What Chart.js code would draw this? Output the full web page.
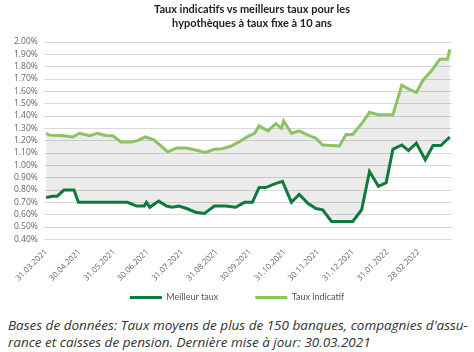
<!DOCTYPE html>
<html>
<head>
<meta charset="utf-8">
<script src="https://cdn.jsdelivr.net/npm/chart.js@4"></script>
<style>
  body { margin:0; background:#fff; width:474px; height:352px; overflow:hidden; }
  #wrap { position:absolute; left:0; top:0; width:474px; height:312px; }
  #title { position:absolute; left:152px; top:2px; width:200px; text-align:center; font-family:Lato,sans-serif; font-weight:bold;
           font-size:11px; line-height:14px; color:#222; white-space:nowrap; }
  #note { position:absolute; left:8px; top:317px; width:466px; font-family:"Open Sans",sans-serif; font-style:italic;
          font-size:13.5px; line-height:17px; color:#333; white-space:nowrap; }
</style>
</head>
<body>
<div id="wrap"><canvas id="c" width="474" height="312"></canvas></div>
<div id="title">Taux indicatifs vs meilleurs taux pour les<br>hypothèques à taux fixe à 10 ans</div>
<div id="note">Bases de données: Taux moyens de plus de 150 banques, compagnies d'assu-<br>rance et caisses de pension. Dernière mise à jour: 30.03.2021</div>
<script>
// days counted from 31.03.2021
const tickDays = [0,30,61,91,122,153,183,214,244,275,306,334];
const tickLabels = ['31.03.2021','30.04.2021','31.05.2021','30.06.2021','31.07.2021','31.08.2021',
  '30.09.2021','31.10.2021','30.11.2021','31.12.2021','31.01.2022','28.02.2022'];

const bestDays = [0,6,10,16,25,29,73,81,88,90,93,101,108,113,119,126,134,142,151,161,170,178,185,
  191,197,205,212,220,227,235,242,248,256,275,283,290,298,305,311,319,325,332,340,347,354,362];
const bestRate = [0.74,0.75,0.75,0.80,0.80,0.70,0.70,0.67,0.67,0.70,0.66,0.71,0.67,0.66,0.67,0.65,0.62,0.61,0.67,0.67,0.66,0.70,0.70,
  0.82,0.82,0.85,0.87,0.70,0.765,0.69,0.65,0.64,0.545,0.545,0.64,0.95,0.83,0.86,1.13,1.165,1.12,1.18,1.045,1.16,1.16,1.23];

const indDays = [0,3,16,24,30,39,46,54,60,67,76,82,89,96,102,109,117,126,134,143,151,158,166,173,181,187,
  191,199,206,211,213,220,227,235,242,248,256,263,269,275,284,290,298,311,319,325,332,338,346,353,360,362];
const indRate = [1.26,1.245,1.24,1.23,1.26,1.24,1.26,1.24,1.24,1.19,1.19,1.20,1.23,1.21,1.165,1.11,1.14,1.14,1.125,1.105,1.13,1.135,1.157,1.19,1.235,1.26,
  1.32,1.28,1.34,1.30,1.36,1.26,1.28,1.245,1.22,1.165,1.16,1.157,1.25,1.25,1.35,1.43,1.41,1.41,1.65,1.62,1.59,1.69,1.77,1.86,1.86,1.94];

const dark = '#0f7a3d', light = '#8cc463';

// legend in the source sits a bit right of the plot centre
const legendShift = { id: 'legendShift', afterLayout(c){ c.legend.left += 7; c.legend.right += 7; } };

new Chart(document.getElementById('c'), {
  type: 'line',
  data: {
    datasets: [
      { label:'Meilleur taux', data: bestDays.map((d,i)=>({x:d, y:bestRate[i]})),
        borderColor: dark, backgroundColor: dark, borderWidth: 3, pointRadius: 0, tension: 0, fill: false },
      { label:'Taux indicatif', data: indDays.map((d,i)=>({x:d, y:indRate[i]})),
        borderColor: light, backgroundColor: 'rgba(0,0,0,0.075)', borderWidth: 3, pointRadius: 0, tension: 0, fill: '-1' }
    ]
  },
  plugins: [legendShift],
  options: {
    animation: false, responsive: false,
    layout: { padding: { left: 8, right: 22, top: 42, bottom: 0 } },
    plugins: {
      legend: { position: 'bottom',
        labels: { color: '#555', font: { family: 'Lato', size: 9 }, boxWidth: 32, boxHeight: 3, padding: 10,
          // extra em spaces after the first label widen the gap between the two entries
          generateLabels: ch => ch.data.datasets.map((ds,i)=>({ text: ds.label + (i === 0 ? '\u2003\u2003\u2003\u2003' : ''),
            fillStyle: ds.borderColor, strokeStyle: ds.borderColor, lineWidth: 0, datasetIndex: i, fontColor: '#555' })) } },
      tooltip: { enabled: false }
    },
    scales: {
      x: { type: 'linear', min: -2, max: 364,
        afterBuildTicks: s => { s.ticks = tickDays.map(v=>({value:v})); },
        ticks: { autoSkip: false, maxRotation: 45, minRotation: 45, color: '#666', font: { family: 'Open Sans', size: 8 }, padding: 0,
          callback: v => tickLabels[tickDays.indexOf(v)] },
        grid: { display: false }, border: { display: false } },
      y: { min: 0.4, max: 2.0,
        ticks: { stepSize: 0.1, autoSkip: false, color: '#666', font: { family: 'Open Sans', size: 8.5 }, padding: 6,
          callback: v => v.toFixed(2) + '%' },
        grid: { color: '#d9d9d9', drawTicks: false }, border: { display: false } }
    }
  }
});
</script>
</body>
</html>
